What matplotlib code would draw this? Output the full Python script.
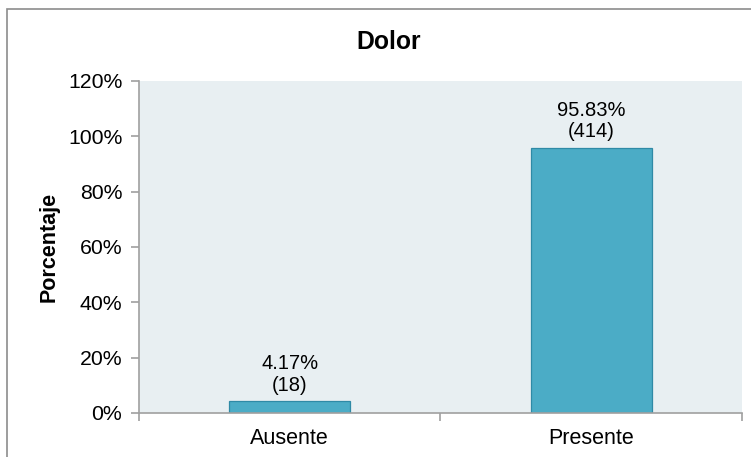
import matplotlib
matplotlib.use("Agg")
import matplotlib.pyplot as plt
from matplotlib.patches import Rectangle
from matplotlib.ticker import FixedLocator, PercentFormatter

categories = ["Ausente", "Presente"]
percentages = [4.17, 95.83]
counts = [18, 414]
y_ticks = [0, 20, 40, 60, 80, 100, 120]

plt.rcParams["font.family"] = ["Liberation Sans", "DejaVu Sans"]

fig = plt.figure(figsize=(7.51, 4.57), dpi=100)
fig.patch.set_facecolor("white")

# Outer chart frame
fig.patches.append(Rectangle((0.0093, -0.05), 1.2, 1.03, transform=fig.transFigure,
                             fill=False, edgecolor="#8c8c8c", linewidth=1.2))

ax = fig.add_axes([0.185, 0.0963, 0.803, 0.7265])
ax.set_facecolor("#e8eff2")

x = list(range(len(categories)))
bars = ax.bar(x, percentages, width=0.4, color="#4bacc6", edgecolor="#2f8aa6",
              linewidth=0.9, zorder=2)

for xi, p, c in zip(x, percentages, counts):
    ax.annotate(f"{p:.2f}%\n({c})", (xi, p), xytext=(0, 5), textcoords="offset points",
                ha="center", va="bottom", fontsize=14.5, linespacing=1.15)

ax.set_xlim(-0.5, len(categories) - 0.5)
ax.set_ylim(0, 120)
ax.set_yticks(y_ticks)
ax.yaxis.set_major_formatter(PercentFormatter(decimals=0))

# Category boundaries carry the tick marks, labels sit between them
ax.xaxis.set_major_locator(FixedLocator([i - 0.5 for i in range(len(categories) + 1)]))
ax.xaxis.set_major_formatter(plt.NullFormatter())
ax.xaxis.set_minor_locator(FixedLocator(x))
ax.set_xticklabels(categories, minor=True)
ax.tick_params(axis="x", which="minor", length=0, pad=11, labelsize=15.5)
ax.tick_params(axis="x", which="major", length=6, width=1.2, color="#a0a0a0")
ax.tick_params(axis="y", length=6, width=1.2, color="#a0a0a0", labelsize=15.3, pad=6)

for side in ("top", "right"):
    ax.spines[side].set_visible(False)
for side in ("left", "bottom"):
    ax.spines[side].set_color("#a0a0a0")
    ax.spines[side].set_linewidth(1.2)

ax.set_ylabel("Porcentaje", fontsize=15.5, fontweight="bold", labelpad=6)
fig.text(0.517, 0.908, "Dolor", ha="center", va="center", fontsize=17.8, fontweight="bold")

fig.savefig("out.png", dpi=100)
